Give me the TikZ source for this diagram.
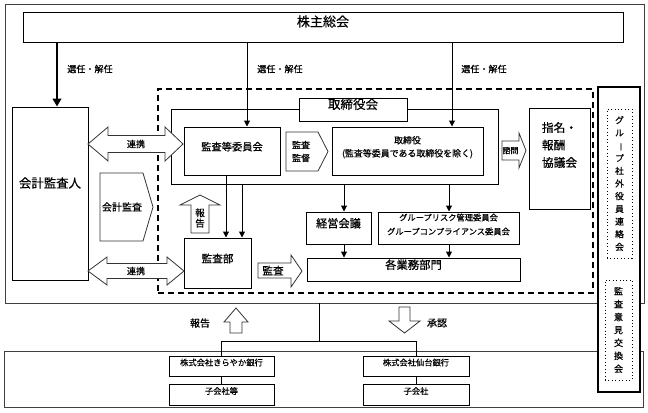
\documentclass[tikz,border=0pt]{standalone}
\usepackage{fontspec}
\setmainfont{Noto Sans CJK JP}[FakeBold=0.5]
\usetikzlibrary{fit,arrows.meta}
\newcommand{\fsz}[1]{\fontsize{#1}{#1}\selectfont}
\newcommand{\tatebo}{\rotatebox[origin=c]{-90}{ー}}
\begin{document}
\begin{tikzpicture}[x=0.75pt,y=-0.75pt,
  bx/.style={draw, line width=0.75pt, fill=white, inner sep=0pt, align=center},
  frm/.style={draw=black!75, line width=0.7pt, inner sep=0pt},
  blk/.style={draw=black!80, line width=0.6pt, fill=white},
  txt/.style={inner sep=0pt, align=center},
  thickarr/.style={line width=2.2pt, -{Triangle[length=6pt,width=6.5pt]}},
  arr/.style={line width=0.75pt, -{Triangle[length=4.5pt,width=4.5pt]}},
  ln/.style={line width=0.75pt},
  dashbox/.style={draw, line width=1pt, dash pattern=on 4.5pt off 3pt, inner sep=0pt},
  dotbox/.style={draw, line width=0.6pt, dotted, inner sep=0pt},
]
\useasboundingbox (0,0) rectangle (648,412);
% frames
\node[frm, fit={(5,4) (644,303)}] (topframe) {};
\node[frm, fit={(4,351) (643,407)}] (botframe) {};
\node[dashbox, fit={(158,89) (593,293)}] (grp) {};
% top
\node[bx, fit={(23,12) (623,42)}, font=\fsz{9.8}] (kabu) {株主総会};
\node[bx, fit={(12,107) (88,280)}] (kaikei) {};
\node[txt, font=\fsz{9.3}] (kaikeit) at (50,183) {会計監査人};
% board
\node[draw, line width=0.75pt, inner sep=0pt, fit={(171,109) (498,184)}] (tori) {};
% helper coordinates for connector x positions
\coordinate (c57) at (57,0);
\coordinate (c247) at (247,0);
\coordinate (c452) at (452,0);
\coordinate (c226) at (226,0);
\coordinate (c242) at (242,0);
\coordinate (c344) at (344,0);
\coordinate (c449) at (449,0);
\node[bx, fit={(299,98) (407,121)}, font=\fsz{9.4}] (torit) {取締役会};
\node[bx, fit={(184,127) (280,175)}, font=\fsz{7.7}] (iinkai) {監査等委員会};
\node[bx, fit={(332,127) (483,175)}, font=\fontsize{6.7}{9.8}\selectfont] (torisimari) {取締役\\(監査等委員である取締役を除く)};
\node[bx, fit={(529,108) (590,209)}] (shimei) {};
\node[txt, align=left, font=\fontsize{8.8}{13.1}\selectfont] (shimeit) at (559.5,145) {指名・\\報酬\\協議会};
% lower boxes inside group
\node[bx, fit={(184,238) (251,288)}, font=\fsz{8}] (kansabu) {監査部};
\node[bx, fit={(306,212) (371,244)}, font=\fsz{8.4}] (keiei) {経営会議};
\node[bx, fit={(378,212) (519,244)}, font=\fontsize{6.2}{10.5}\selectfont] (group) {グループリスク管理委員会\\グループコンプライアンス委員会};
\node[bx, fit={(307,258) (520,281)}, font=\fsz{8.5}] (gyomu) {各業務部門};
% connectors
\draw[thickarr] (kabu.south -| c57) -- (kaikei.north -| c57);
\draw[arr] (kabu.south -| c247) -- (iinkai.north -| c247);
\draw[arr] (kabu.south -| c452) -- (torisimari.north -| c452);
\draw[arr] (iinkai.south -| c226) -- (kansabu.north -| c226);
\draw[arr] (tori.south -| c242) -- (kansabu.north -| c242);
\draw[arr] (tori.south -| c344) -- (keiei.north -| c344);
\draw[arr] (tori.south -| c449) -- (group.north -| c449);
\draw[arr] (keiei.south -| c344) -- (gyomu.north -| c344);
\draw[arr] (group.south -| c449) -- (gyomu.north -| c449);
\node[txt, font=\fsz{6.8}] (sen1) at (90,69) {選任・解任};
\node[txt, font=\fsz{6.8}] (sen2) at (280,69) {選任・解任};
\node[txt, font=\fsz{6.8}] (sen3) at (484,69) {選任・解任};
% block arrows
\draw[blk] (88,144) -- (108,127) -- (108,135.5) -- (165,135.5) -- (165,127) -- (183,144) -- (165,161) -- (165,152.5) -- (108,152.5) -- (108,161) -- cycle;
\node[txt, font=\fsz{6.8}] (renkei1) at (136,144) {連携};
\draw[blk] (88,271) -- (107,257) -- (107,263.5) -- (167,263.5) -- (167,257) -- (184,271) -- (167,285) -- (167,278.5) -- (107,278.5) -- (107,285) -- cycle;
\node[txt, font=\fsz{6.8}] (renkei2) at (136,271) {連携};
\draw[blk] (100,173) -- (143,173) -- (153,207) -- (143,241) -- (100,241) -- cycle;
\node[txt, font=\fsz{7.5}] (kaikeikansa) at (122,207) {会計監査};
\draw[blk] (286,132) -- (318,132) -- (328,151.5) -- (318,171) -- (286,171) -- cycle;
\node[txt, font=\fontsize{6.8}{9.8}\selectfont] (kantoku) at (301,151.5) {監査\\監督};
\draw[blk] (200,195) -- (220,205) -- (209,205) -- (209,233) -- (191,233) -- (191,205) -- (180,205) -- cycle;
\node[txt, font=\fontsize{7.2}{7.8}\selectfont] (hokoku1) at (200,218) {報\\告};
\draw[blk] (258,263) -- (291,263) -- (291,255) -- (302,271) -- (291,287) -- (291,278) -- (258,278) -- cycle;
\node[txt, font=\fsz{8}] (kansa2) at (273,270.5) {監査};
\draw[blk] (502,141) -- (519,141) -- (519,133) -- (526,150.5) -- (519,168) -- (519,160) -- (502,160) -- cycle;
\node[txt, font=\fsz{6}] (shimon) at (510.5,150.5) {諮問};
% right panel
\node[draw, line width=1pt, fill=white, inner sep=0pt, fit={(598,87) (640,392)}] (panel) {};
\node[dotbox, fit={(607,109) (632,258)}] (renraku) {};
\node[txt, font=\fontsize{6.6}{9.5}\selectfont] (renrakut) at (619.5,183.5) {グ\\ル\\\tatebo\\プ\\社\\外\\役\\員\\連\\絡\\会};
\node[dotbox, fit={(605,280) (632,380)}] (iken) {};
\node[txt, font=\fontsize{6.8}{9.7}\selectfont] (ikent) at (618.5,330) {監\\査\\意\\見\\交\\換\\会};
% bottom
\node[bx, fit={(169,356) (274,376)}, font=\fsz{6.2}] (kiraya) {株式会社きらやか銀行};
\node[bx, fit={(169,384) (274,405)}, font=\fsz{6.2}] (ko1) {子会社等};
\node[bx, fit={(363,356) (469,376)}, font=\fsz{6.2}] (sendai) {株式会社仙台銀行};
\node[bx, fit={(363,384) (469,405)}, font=\fsz{6.2}] (ko2) {子会社};
\coordinate (j) at (319,341);
\draw[ln] (topframe.south -| j) -- (j);
\draw[ln] (kiraya.north) |- (j) -| (sendai.north);
\draw[ln] (kiraya.south) -- (ko1.north);
\draw[ln] (sendai.south) -- (ko2.north);
\draw[blk] (236,308) -- (248,322) -- (242,322) -- (242,333) -- (230,333) -- (230,322) -- (224,322) -- cycle;
\node[txt, font=\fsz{7.5}] (hokoku2) at (200,323) {報告};
\draw[blk] (399,307) -- (410,307) -- (410,321) -- (420,321) -- (404.5,333) -- (389,321) -- (399,321) -- cycle;
\node[txt, font=\fsz{7.5}] (shonin) at (437,323) {承認};
\end{tikzpicture}
\end{document}
